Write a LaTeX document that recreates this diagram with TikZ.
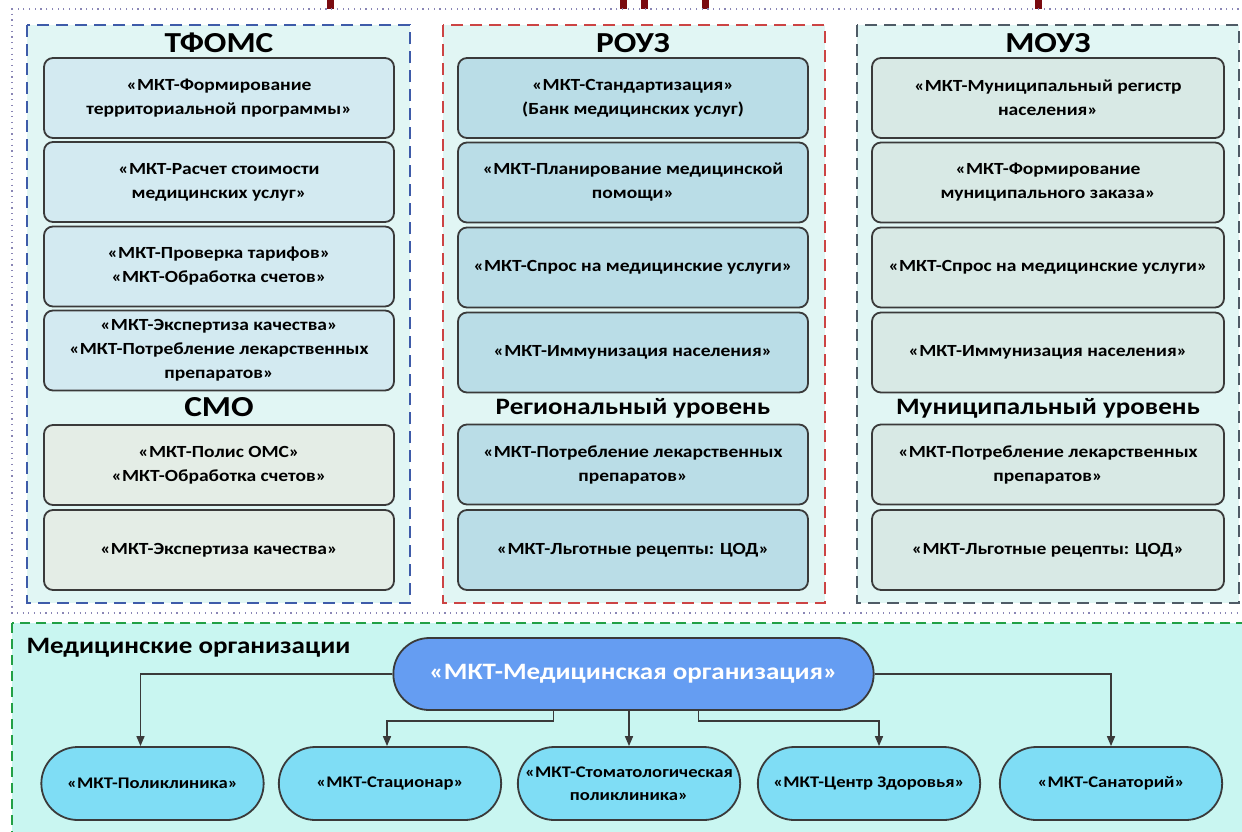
\documentclass[tikz,border=0pt]{standalone}
\usepackage{fontspec}
\setmainfont{Carlito}[FakeStretch=1.15]
\usetikzlibrary{shapes.misc,arrows.meta}
\definecolor{panelfill}{HTML}{E1F6F4}
\definecolor{greenfill}{HTML}{C9F6F1}
\definecolor{tfcol}{HTML}{D3EAF1}
\definecolor{smocol}{HTML}{E4EDE6}
\definecolor{rouzcol}{HTML}{BADDE7}
\definecolor{mouzcol}{HTML}{D8E9E5}
\definecolor{pillcol}{HTML}{7FDDF5}
\definecolor{mocol}{HTML}{659DF2}
\definecolor{bluedash}{HTML}{3E5BA9}
\definecolor{reddash}{HTML}{CC4444}
\definecolor{graydash}{HTML}{4F5B66}
\definecolor{greendash}{HTML}{22A046}
\definecolor{dotcol}{HTML}{8A86B5}
\definecolor{maroon}{HTML}{7A0A10}
\definecolor{boxline}{HTML}{3A3A3A}
\begin{document}
\begin{tikzpicture}[x=1pt,y=-1pt,
  panel/.style={dash pattern=on 12pt off 7pt, line width=1.4pt, fill=panelfill},
  mbox/.style={draw=boxline, line width=1.8pt, rounded corners=9pt, minimum width=350pt, minimum height=80pt, align=center, inner sep=2pt, font=\bfseries\fontsize{17}{24}\selectfont},
  tfbox/.style={mbox, fill=tfcol},
  smobox/.style={mbox, fill=smocol},
  rbox/.style={mbox, fill=rouzcol},
  mubox/.style={mbox, fill=mouzcol, minimum width=352pt},
  ttl/.style={font=\bfseries\fontsize{29}{34}\selectfont},
  subttl/.style={font=\bfseries\fontsize{23.5}{28}\selectfont},
  pill/.style={draw=boxline, line width=1.8pt, rounded rectangle, minimum width=229pt, minimum height=73pt, fill=pillcol, align=center, font=\bfseries\fontsize{16.2}{23}\selectfont},
  arr/.style={-{Triangle[length=10pt,width=8pt]}, line width=1.6pt, draw=boxline},
  frag/.style={fill=maroon, draw=none}]
\useasboundingbox (0,0) rectangle (1242,831);
\clip (0,0) rectangle (1242,831);
\fill[white] (0,0) rectangle (1242,831);
% cut-off title fragments
\foreach \x in {327,620,641,702,1035} \fill[frag] (\x,0) rectangle (\x+7,9);
% dotted frame
\draw[dotcol, line width=1.2pt, dash pattern=on 1.2pt off 4.5pt] (1250,9) -- (12,9) -- (12,613) -- (1250,613);
% panels
\draw[panel, draw=bluedash] (27,25) rectangle (410,603);
\draw[panel, draw=reddash] (443,25) rectangle (825,603);
\draw[panel, draw=graydash] (857,25) rectangle (1239,603);
\draw[greendash, fill=greenfill, line width=1.6pt, dash pattern=on 10pt off 6pt] (12,623) rectangle (1250,850);
% TFOMS
\node[ttl] (t1) at (219,43) {ТФОМС};
\node[tfbox] (a1) at (219,98) {«МКТ-Формирование\\территориальной программы»};
\node[tfbox] (a2) at (219,182) {«МКТ-Расчет стоимости\\медицинских услуг»};
\node[tfbox] (a3) at (219,266.5) {«МКТ-Проверка тарифов»\\«МКТ-Обработка счетов»};
\node[tfbox] (a4) at (219,350.5) {«МКТ-Экспертиза качества»\\«МКТ-Потребление лекарственных\\препаратов»};
\node[ttl] (t2) at (219,407) {СМО};
\node[smobox] (a5) at (219,465) {«МКТ-Полис ОМС»\\«МКТ-Обработка счетов»};
\node[smobox] (a6) at (219,550) {«МКТ-Экспертиза качества»};
% ROUZ
\node[ttl] (t3) at (633,43) {РОУЗ};
\node[rbox] (b1) at (633,98) {«МКТ-Стандартизация»\\(Банк медицинских услуг)};
\node[rbox] (b2) at (633,182.5) {«МКТ-Планирование медицинской\\помощи»};
\node[rbox] (b3) at (633,267.5) {«МКТ-Спрос на медицинские услуги»};
\node[rbox] (b4) at (633,352.5) {«МКТ-Иммунизация населения»};
\node[subttl] (t4) at (633,408) {Региональный уровень};
\node[rbox] (b5) at (633,464.5) {«МКТ-Потребление лекарственных\\препаратов»};
\node[rbox] (b6) at (633,550) {«МКТ-Льготные рецепты: ЦОД»};
% MOUZ
\node[ttl] (t5) at (1048,43) {МОУЗ};
\node[mubox] (c1) at (1048,98) {«МКТ-Муниципальный регистр\\населения»};
\node[mubox] (c2) at (1048,182.5) {«МКТ-Формирование\\муниципального заказа»};
\node[mubox] (c3) at (1048,267.5) {«МКТ-Спрос на медицинские услуги»};
\node[mubox] (c4) at (1048,352.5) {«МКТ-Иммунизация населения»};
\node[subttl] (t6) at (1048,408) {Муниципальный уровень};
\node[mubox] (c5) at (1048,464.5) {«МКТ-Потребление лекарственных\\препаратов»};
\node[mubox] (c6) at (1048,550) {«МКТ-Льготные рецепты: ЦОД»};
% medical organisations
\node[font=\bfseries\fontsize{23.5}{28}\selectfont, anchor=west] (t7) at (23,648) {Медицинские организации};
\node[draw=boxline, line width=1.8pt, rounded rectangle, fill=mocol, minimum width=487pt, minimum height=72pt, text=white, font=\bfseries\fontsize{23.5}{28}\selectfont] (mo) at (633.5,674) {«МКТ-Медицинская организация»};
\node[pill] (p1) at (152.5,783.5) {«МКТ-Поликлиника»};
\node[pill] (p2) at (390,783.5) {«МКТ-Стационар»};
\node[pill] (p3) at (629,783.5) {«МКТ-Стоматологическая\\поликлиника»};
\node[pill] (p4) at (869,783.5) {«МКТ-Центр Здоровья»};
\node[pill] (p5) at (1111,783.5) {«МКТ-Санаторий»};
\draw[arr] (mo.west) -| ([xshift=-12pt]p1.north);
\draw[arr] ([xshift=-80pt]mo.south) -- ++(0,10) -| ([xshift=-3pt]p2.north);
\draw[arr] (mo.south -| p3.north) -- (p3.north);
\draw[arr] ([xshift=65pt]mo.south) -- ++(0,10) -| ([xshift=10pt]p4.north);
\draw[arr] (mo.east) -| (p5.north);
\end{tikzpicture}
\end{document}
